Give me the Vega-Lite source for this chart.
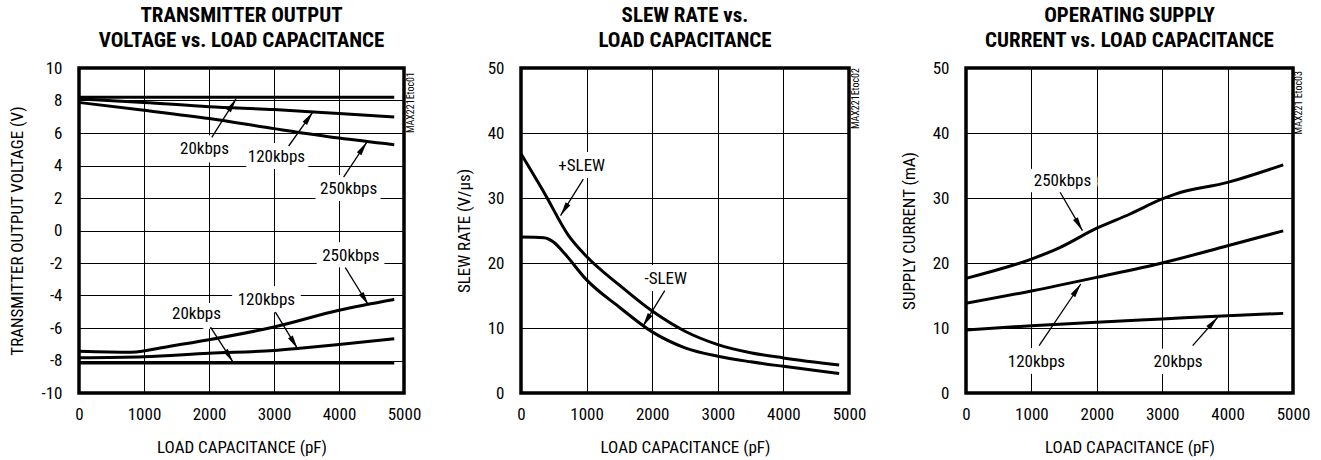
{
  "$schema": "https://vega.github.io/schema/vega-lite/v6.json",
  "padding": {"left": 7, "top": 3, "right": 5, "bottom": 5},
  "bounds": "flush",
  "spacing": 117,
  "config": {
    "font": "Roboto Condensed, Roboto",
    "view": {"stroke": "black", "strokeWidth": 3.5},
    "axis": {
      "labelFont": "Roboto Condensed, Roboto", "labelFontSize": 17, "labelColor": "black",
      "titleFont": "Roboto Condensed, Roboto", "titleFontSize": 17, "titleFontWeight": "normal", "titleColor": "black",
      "grid": true, "gridColor": "black", "gridOpacity": 1, "gridWidth": 1,
      "domain": false, "ticks": false, "labelFlush": false, "labelOverlap": false, "tickCount": 20,
      "labelExpr": "'' + datum.value"
    },
    "axisX": {"labelPadding": 13, "titlePadding": 17},
    "axisY": {"labelPadding": 17, "titlePadding": 14},
    "title": {"font": "Roboto Condensed, DejaVu Sans Condensed", "fontSize": 21, "fontWeight": "bold", "color": "black", "lineHeight": 25, "frame": "group", "anchor": "middle", "offset": 8, "baseline": "bottom"},
    "text": {"font": "Roboto Condensed, Roboto", "fontSize": 17, "color": "black"}
  },
  "datasets": {
    "c1": [
      {"C": 0, "V": 8.2, "s": "20p"}, {"C": 1000, "V": 8.2, "s": "20p"}, {"C": 2000, "V": 8.2, "s": "20p"}, {"C": 3000, "V": 8.2, "s": "20p"}, {"C": 4000, "V": 8.2, "s": "20p"}, {"C": 4850, "V": 8.2, "s": "20p"},
      {"C": 0, "V": 8.1, "s": "120p"}, {"C": 1000, "V": 7.88, "s": "120p"}, {"C": 2000, "V": 7.62, "s": "120p"}, {"C": 3000, "V": 7.44, "s": "120p"}, {"C": 4000, "V": 7.2, "s": "120p"}, {"C": 4850, "V": 6.99, "s": "120p"},
      {"C": 0, "V": 7.88, "s": "250p"}, {"C": 1000, "V": 7.4, "s": "250p"}, {"C": 2000, "V": 6.89, "s": "250p"}, {"C": 3000, "V": 6.27, "s": "250p"}, {"C": 4000, "V": 5.69, "s": "250p"}, {"C": 4850, "V": 5.28, "s": "250p"},
      {"C": 0, "V": -8.15, "s": "20n"}, {"C": 1000, "V": -8.15, "s": "20n"}, {"C": 2000, "V": -8.15, "s": "20n"}, {"C": 3000, "V": -8.15, "s": "20n"}, {"C": 4000, "V": -8.15, "s": "20n"}, {"C": 4850, "V": -8.15, "s": "20n"},
      {"C": 0, "V": -7.83, "s": "120n"}, {"C": 1000, "V": -7.77, "s": "120n"}, {"C": 2000, "V": -7.55, "s": "120n"}, {"C": 3000, "V": -7.38, "s": "120n"}, {"C": 3400, "V": -7.24, "s": "120n"}, {"C": 4000, "V": -7.01, "s": "120n"}, {"C": 4850, "V": -6.66, "s": "120n"},
      {"C": 0, "V": -7.43, "s": "250n"}, {"C": 800, "V": -7.49, "s": "250n"}, {"C": 1400, "V": -7.12, "s": "250n"}, {"C": 2000, "V": -6.72, "s": "250n"}, {"C": 3000, "V": -5.94, "s": "250n"}, {"C": 4000, "V": -4.91, "s": "250n"}, {"C": 4850, "V": -4.25, "s": "250n"}
    ],
    "l1": [
      {"C": 1931, "V": 5.04, "t": "20kbps"}, {"C": 3037, "V": 4.52, "t": "120kbps"}, {"C": 4147, "V": 2.55, "t": "250kbps"},
      {"C": 4183, "V": -1.58, "t": "250kbps"}, {"C": 2883, "V": -4.25, "t": "120kbps"}, {"C": 1808, "V": -5.12, "t": "20kbps"}
    ],
    "a1": [
      {"C": 2043, "V": 5.73, "C2": 2416, "V2": 8.1}, {"C": 3226, "V": 5.2, "C2": 3599, "V2": 7.3}, {"C": 4071, "V": 3.28, "C2": 4429, "V2": 5.44},
      {"C": 4097, "V": -2.28, "C2": 4455, "V2": -4.6}, {"C": 3021, "V": -5.02, "C2": 3364, "V2": -7.28}, {"C": 2023, "V": -5.94, "C2": 2370, "V2": -8.1}
    ],
    "c2": [
      {"C": 0, "V": 36.8, "s": "+"}, {"C": 360, "V": 30.7, "s": "+"}, {"C": 720, "V": 24.3, "s": "+"}, {"C": 1000, "V": 21.0, "s": "+"}, {"C": 1500, "V": 16.6, "s": "+"}, {"C": 2000, "V": 12.6, "s": "+"}, {"C": 2500, "V": 9.5, "s": "+"}, {"C": 3000, "V": 7.45, "s": "+"}, {"C": 3500, "V": 6.2, "s": "+"}, {"C": 4000, "V": 5.4, "s": "+"}, {"C": 4850, "V": 4.3, "s": "+"},
      {"C": 0, "V": 24.0, "s": "-"}, {"C": 350, "V": 23.9, "s": "-"}, {"C": 500, "V": 23.2, "s": "-"}, {"C": 665, "V": 21.45, "s": "-"}, {"C": 1000, "V": 17.4, "s": "-"}, {"C": 1500, "V": 13.2, "s": "-"}, {"C": 2000, "V": 9.4, "s": "-"}, {"C": 2500, "V": 6.95, "s": "-"}, {"C": 3000, "V": 5.66, "s": "-"}, {"C": 3500, "V": 4.8, "s": "-"}, {"C": 4000, "V": 4.1, "s": "-"}, {"C": 4850, "V": 3.0, "s": "-"}
    ],
    "l2": [{"C": 925, "V": 34.93, "t": "+SLEW"}, {"C": 2206, "V": 17.6, "t": "-SLEW"}],
    "a2": [{"C": 950, "V": 32.9, "C2": 603, "V2": 27.3}, {"C": 2191, "V": 15.74, "C2": 1857, "V2": 10.24}],
    "c3": [
      {"C": 0, "V": 17.64, "s": "250"}, {"C": 1000, "V": 20.6, "s": "250"}, {"C": 1400, "V": 22.2, "s": "250"}, {"C": 2000, "V": 25.35, "s": "250"}, {"C": 2500, "V": 27.5, "s": "250"}, {"C": 3000, "V": 29.85, "s": "250"}, {"C": 3200, "V": 30.6, "s": "250"}, {"C": 4000, "V": 32.4, "s": "250"}, {"C": 4850, "V": 35.1, "s": "250"},
      {"C": 0, "V": 13.8, "s": "120"}, {"C": 1000, "V": 15.7, "s": "120"}, {"C": 2000, "V": 17.8, "s": "120"}, {"C": 3000, "V": 20.0, "s": "120"}, {"C": 4000, "V": 22.65, "s": "120"}, {"C": 4850, "V": 24.95, "s": "120"},
      {"C": 0, "V": 9.7, "s": "20"}, {"C": 1000, "V": 10.35, "s": "20"}, {"C": 2000, "V": 10.9, "s": "20"}, {"C": 3000, "V": 11.4, "s": "20"}, {"C": 4000, "V": 11.9, "s": "20"}, {"C": 4850, "V": 12.25, "s": "20"}
    ],
    "l3": [{"C": 1475, "V": 32.66, "t": "250kbps"}, {"C": 1077, "V": 4.82, "t": "120kbps"}, {"C": 3243, "V": 4.82, "t": "20kbps"}],
    "a3": [{"C": 1439, "V": 30.88, "C2": 1781, "V2": 24.97}, {"C": 1118, "V": 7.28, "C2": 1755, "V2": 16.77}, {"C": 3466, "V": 7.28, "C2": 3848, "V2": 11.65}]
  },
  "hconcat": [
    {
      "width": 325, "height": 325,
      "title": {"text": ["TRANSMITTER OUTPUT", "VOLTAGE vs. LOAD CAPACITANCE"]},
      "layer": [
        {
          "data": {"name": "l1"},
          "mark": {"type": "text", "stroke": "white", "strokeWidth": 14, "strokeJoin": "round", "fill": "white", "baseline": "middle"},
          "encoding": {
            "x": {"field": "C", "type": "quantitative", "scale": {"domain": [0, 5000], "nice": false, "zero": false},
                  "axis": {"title": "LOAD CAPACITANCE (pF)", "values": [0, 1000, 2000, 3000, 4000, 5000]}},
            "y": {"field": "V", "type": "quantitative", "scale": {"domain": [-10, 10], "nice": false, "zero": false},
                  "axis": {"title": "TRANSMITTER OUTPUT VOLTAGE (V)", "values": [-10, -8, -6, -4, -2, 0, 2, 4, 6, 8, 10]}},
            "text": {"field": "t"}
          }
        },
        {
          "data": {"name": "c1"},
          "mark": {"type": "line", "color": "black", "strokeWidth": 3, "interpolate": "monotone"},
          "encoding": {
            "x": {"field": "C", "type": "quantitative"},
            "y": {"field": "V", "type": "quantitative"},
            "detail": {"field": "s"}
          }
        },
        {
          "data": {"name": "a1"},
          "mark": {"type": "rule", "color": "black", "strokeWidth": 1.3},
          "encoding": {
            "x": {"field": "C", "type": "quantitative"}, "y": {"field": "V", "type": "quantitative"},
            "x2": {"field": "C2"}, "y2": {"field": "V2"}
          }
        },
        {
          "data": {"name": "a1"},
          "transform": [{"calculate": "atan2((datum.C2 - datum.C) * 0.065, (datum.V2 - datum.V) * 16.25) * 180 / PI", "as": "ang"}],
          "mark": {"type": "point", "shape": "M0,0L0.55,2.8L-0.55,2.8Z", "filled": true, "size": 100, "color": "black", "opacity": 1, "strokeWidth": 0},
          "encoding": {
            "x": {"field": "C2", "type": "quantitative"}, "y": {"field": "V2", "type": "quantitative"},
            "angle": {"field": "ang", "type": "quantitative", "scale": null}
          }
        },
        {
          "data": {"name": "l1"},
          "mark": {"type": "text", "baseline": "middle", "color": "black"},
          "encoding": {
            "x": {"field": "C", "type": "quantitative"}, "y": {"field": "V", "type": "quantitative"},
            "text": {"field": "t"}
          }
        },
        {
          "data": {"values": [{"t": "MAX221Etoc01"}]},
          "mark": {"type": "text", "angle": 270, "align": "right", "baseline": "middle", "fontSize": 10, "dy": 7, "dx": -4, "color": "black"},
          "encoding": {"x": {"datum": 5000}, "y": {"datum": 10}, "text": {"field": "t"}}
        }
      ]
    },
    {
      "width": 328, "height": 325,
      "title": {"text": ["SLEW RATE vs.", "LOAD CAPACITANCE"]},
      "layer": [
        {
          "data": {"name": "l2"},
          "mark": {"type": "text", "stroke": "white", "strokeWidth": 14, "strokeJoin": "round", "fill": "white", "baseline": "middle"},
          "encoding": {
            "x": {"field": "C", "type": "quantitative", "scale": {"domain": [0, 5000], "nice": false, "zero": false},
                  "axis": {"title": "LOAD CAPACITANCE (pF)", "values": [0, 1000, 2000, 3000, 4000, 5000]}},
            "y": {"field": "V", "type": "quantitative", "scale": {"domain": [0, 50], "nice": false, "zero": false},
                  "axis": {"title": "SLEW RATE (V/µs)", "values": [0, 10, 20, 30, 40, 50]}},
            "text": {"field": "t"}
          }
        },
        {
          "data": {"name": "c2"},
          "mark": {"type": "line", "color": "black", "strokeWidth": 3, "interpolate": "monotone"},
          "encoding": {
            "x": {"field": "C", "type": "quantitative"},
            "y": {"field": "V", "type": "quantitative"},
            "detail": {"field": "s"}
          }
        },
        {
          "data": {"name": "a2"},
          "mark": {"type": "rule", "color": "black", "strokeWidth": 1.3},
          "encoding": {
            "x": {"field": "C", "type": "quantitative"}, "y": {"field": "V", "type": "quantitative"},
            "x2": {"field": "C2"}, "y2": {"field": "V2"}
          }
        },
        {
          "data": {"name": "a2"},
          "transform": [{"calculate": "atan2((datum.C2 - datum.C) * 0.0656, (datum.V2 - datum.V) * 6.5) * 180 / PI", "as": "ang"}],
          "mark": {"type": "point", "shape": "M0,0L0.55,2.8L-0.55,2.8Z", "filled": true, "size": 100, "color": "black", "opacity": 1, "strokeWidth": 0},
          "encoding": {
            "x": {"field": "C2", "type": "quantitative"}, "y": {"field": "V2", "type": "quantitative"},
            "angle": {"field": "ang", "type": "quantitative", "scale": null}
          }
        },
        {
          "data": {"name": "l2"},
          "mark": {"type": "text", "baseline": "middle", "color": "black"},
          "encoding": {
            "x": {"field": "C", "type": "quantitative"}, "y": {"field": "V", "type": "quantitative"},
            "text": {"field": "t"}
          }
        },
        {
          "data": {"values": [{"t": "MAX221Etoc02"}]},
          "mark": {"type": "text", "angle": 270, "align": "right", "baseline": "middle", "fontSize": 10, "dy": 7, "dx": 0, "color": "black"},
          "encoding": {"x": {"datum": 5000}, "y": {"datum": 50}, "text": {"field": "t"}}
        }
      ]
    },
    {
      "width": 327, "height": 325,
      "title": {"text": ["OPERATING SUPPLY", "CURRENT vs. LOAD CAPACITANCE"]},
      "layer": [
        {
          "data": {"name": "l3"},
          "mark": {"type": "text", "stroke": "white", "strokeWidth": 14, "strokeJoin": "round", "fill": "white", "baseline": "middle"},
          "encoding": {
            "x": {"field": "C", "type": "quantitative", "scale": {"domain": [0, 5000], "nice": false, "zero": false},
                  "axis": {"title": "LOAD CAPACITANCE (pF)", "values": [0, 1000, 2000, 3000, 4000, 5000]}},
            "y": {"field": "V", "type": "quantitative", "scale": {"domain": [0, 50], "nice": false, "zero": false},
                  "axis": {"title": "SUPPLY CURRENT (mA)", "values": [0, 10, 20, 30, 40, 50]}},
            "text": {"field": "t"}
          }
        },
        {
          "data": {"name": "c3"},
          "mark": {"type": "line", "color": "black", "strokeWidth": 3, "interpolate": "monotone"},
          "encoding": {
            "x": {"field": "C", "type": "quantitative"},
            "y": {"field": "V", "type": "quantitative"},
            "detail": {"field": "s"}
          }
        },
        {
          "data": {"name": "a3"},
          "mark": {"type": "rule", "color": "black", "strokeWidth": 1.3},
          "encoding": {
            "x": {"field": "C", "type": "quantitative"}, "y": {"field": "V", "type": "quantitative"},
            "x2": {"field": "C2"}, "y2": {"field": "V2"}
          }
        },
        {
          "data": {"name": "a3"},
          "transform": [{"calculate": "atan2((datum.C2 - datum.C) * 0.0654, (datum.V2 - datum.V) * 6.5) * 180 / PI", "as": "ang"}],
          "mark": {"type": "point", "shape": "M0,0L0.55,2.8L-0.55,2.8Z", "filled": true, "size": 100, "color": "black", "opacity": 1, "strokeWidth": 0},
          "encoding": {
            "x": {"field": "C2", "type": "quantitative"}, "y": {"field": "V2", "type": "quantitative"},
            "angle": {"field": "ang", "type": "quantitative", "scale": null}
          }
        },
        {
          "data": {"name": "l3"},
          "mark": {"type": "text", "baseline": "middle", "color": "black"},
          "encoding": {
            "x": {"field": "C", "type": "quantitative"}, "y": {"field": "V", "type": "quantitative"},
            "text": {"field": "t"}
          }
        },
        {
          "data": {"values": [{"t": "MAX221 Etoc03"}]},
          "mark": {"type": "text", "angle": 270, "align": "right", "baseline": "middle", "fontSize": 10, "dy": 6, "dx": -3, "color": "black"},
          "encoding": {"x": {"datum": 5000}, "y": {"datum": 50}, "text": {"field": "t"}}
        }
      ]
    }
  ]
}
